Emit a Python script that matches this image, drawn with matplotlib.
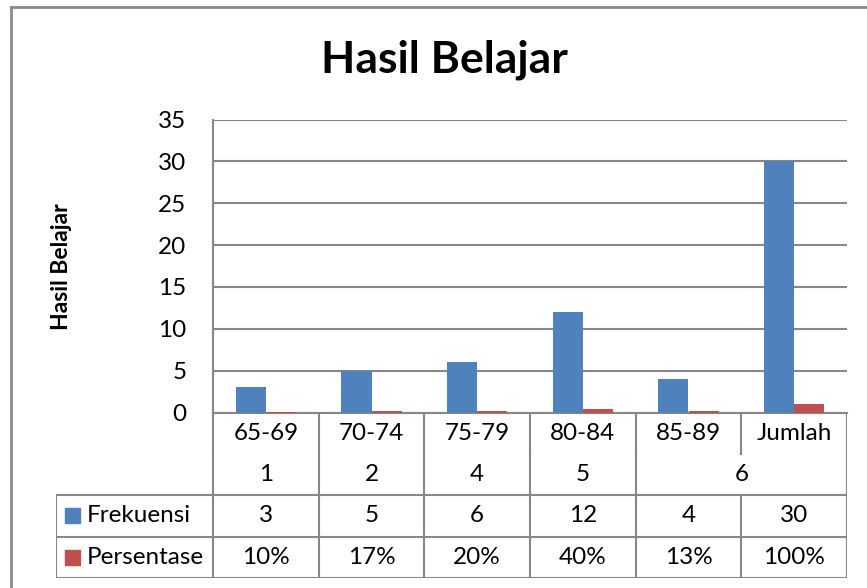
import matplotlib
matplotlib.use("Agg")
import matplotlib.pyplot as plt
from matplotlib.lines import Line2D
from matplotlib.patches import Rectangle

plt.rcParams["font.family"] = ["Lato", "DejaVu Sans"]

# ---- data ----
kelas = ["65-69", "70-74", "75-79", "80-84", "85-89", "Jumlah"]
nomor = ["1", "2", "4", "5", "6"]          # "6" spans the last two columns
nomor_span = [1, 1, 1, 1, 2]
frekuensi = [3, 5, 6, 12, 4, 30]
persentase = [0.10, 0.17, 0.20, 0.40, 0.13, 1.00]
pers_label = ["10%", "17%", "20%", "40%", "13%", "100%"]
series = ["Frekuensi", "Persentase"]
BLUE, RED = "#4F81BD", "#C0504D"
GRID = "#878787"
FS = 17.5

W, H = 867, 588
fig = plt.figure(figsize=(W / 100, H / 100), dpi=100)

def fr(px_l, py_t, px_r, py_b):
    return [px_l / W, 1 - py_b / H, (px_r - px_l) / W, (py_b - py_t) / H]

# ---- outer frame (chart border) ----
fig.add_artist(Line2D([11 / W, 11 / W], [0, 1 - 7 / H], color="#8a8a8a", lw=2))
fig.add_artist(Line2D([11 / W, 1], [1 - 7 / H, 1 - 7 / H], color="#8a8a8a", lw=2))

# ---- plot area ----
PL, PR, PT, PB = 213, 847, 119.5, 412.5
ax = fig.add_axes(fr(PL, PT, PR, PB))
n = len(kelas)
x = list(range(n))
bw = 0.284
ax.bar([i - bw / 2 for i in x], frekuensi, width=bw, color=BLUE, zorder=3)
ax.bar([i + bw / 2 for i in x], persentase, width=bw, color=RED, zorder=3)
ax.set_xlim(-0.5, n - 0.5)
ax.set_ylim(0, 35)
ax.set_yticks(range(0, 36, 5))
ax.set_xticks([])
ax.tick_params(axis="y", length=0, pad=19, labelsize=FS)
ax.grid(True, axis="y", color=GRID, lw=1.5, zorder=0)
for s in ["top", "right"]:
    ax.spines[s].set_visible(False)
for s in ["left", "bottom"]:
    ax.spines[s].set_color(GRID)
    ax.spines[s].set_linewidth(1.5)

# ---- category axis + data table ----
TL, TB = 56, 578
cw = (PR - PL) / n
tx = fig.add_axes(fr(TL, PB, PR, TB))
tx.set_xlim(-0.5 - (PL - TL) / cw, n - 0.5)
tx.set_ylim(TB, PB)
tx.axis("off")
lk = dict(color=GRID, lw=1.5, solid_capstyle="projecting")
r1, r2, r3, r4 = 454, 495, 536.7, TB
xl = -0.5 - (PL - TL) / cw

# row 1: class intervals
for i, lab in enumerate(kelas):
    tx.text(i, (PB + r1) / 2, lab, ha="center", va="center", fontsize=FS)
for b in range(n + 1):
    tx.plot([b - 0.5, b - 0.5], [PB, r1], **lk)
# row 2: numbers with span
pos = 0
for lab, sp in zip(nomor, nomor_span):
    tx.text(pos + (sp - 1) / 2, (r1 + r2) / 2, lab, ha="center", va="center", fontsize=FS)
    tx.plot([pos - 0.5, pos - 0.5], [r1, r2], **lk)
    pos += sp
tx.plot([n - 0.5, n - 0.5], [r1, r2], **lk)

# data table rows
for yb in [r2, r3, r4]:
    tx.plot([xl, n - 0.5], [yb, yb], **lk)
for b in range(n + 1):
    tx.plot([b - 0.5, b - 0.5], [r2, r4], **lk)
tx.plot([xl, xl], [r2, r4], **lk)

rows = [(r2, r3, [str(v) for v in frekuensi], BLUE, series[0]),
        (r3, r4, pers_label, RED, series[1])]
for yt, yb, labels, col, name in rows:
    yc = (yt + yb) / 2
    for i, lab in enumerate(labels):
        tx.text(i, yc, lab, ha="center", va="center", fontsize=FS)
    tx.add_patch(Rectangle((xl + 9 / cw, yc - 7.5), 15 / cw, 15, color=col))
    tx.text(xl + 31 / cw, yc, name, ha="left", va="center", fontsize=FS)

# ---- titles ----
fig.text(444 / W, 1 - 60 / H, "Hasil Belajar", ha="center", va="center",
         fontsize=32, fontweight="bold")
fig.text(62 / W, 1 - 267 / H, "Hasil Belajar", ha="center", va="center",
         rotation=90, fontsize=16.5, fontweight="bold")

fig.savefig("out.png", dpi=100, facecolor="white")
